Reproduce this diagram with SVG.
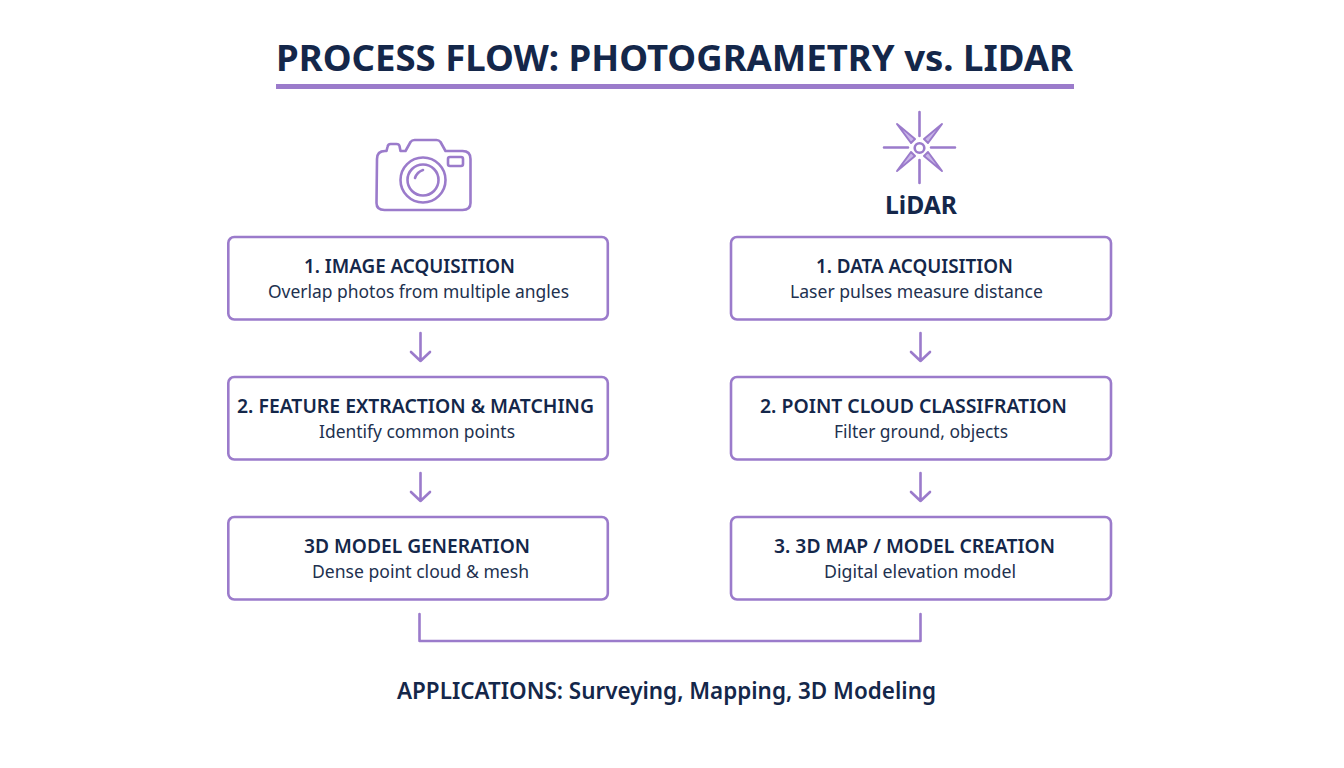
<svg xmlns="http://www.w3.org/2000/svg" width="1344" height="768" viewBox="0 0 1344 768">
<style>
text{font-family:"Noto Sans","Open Sans","Liberation Sans",sans-serif;fill:#14274a;text-anchor:middle}
.t{font-size:19.500px;font-weight:600}
.s{font-size:17.500px;font-weight:400;fill:#22314f}
.b{fill:#fff;stroke:#9b7bcb;stroke-width:2.600}
.l{fill:none;stroke:#9b7bcb;stroke-width:2.600;stroke-linecap:round;stroke-linejoin:round}
.i{fill:none;stroke:#9b7bcb;stroke-width:2.600;stroke-linejoin:round;stroke-linecap:round}
</style>
<rect width="1344" height="768" fill="#fff"/>
<g id="title">
<text x="674.500" y="71" style="font-size:36.500px;font-weight:700" textLength="797" lengthAdjust="spacingAndGlyphs">PROCESS FLOW: PHOTOGRAMETRY vs. LIDAR</text>
<rect x="276" y="84" width="798" height="5" fill="#9b7bcb"/>
</g>
<g id="camera-icon">
<path class="i" d="M377 159q0-8 8-8h1.500l1-4q.5-3 3-3h6q2.500 0 3 2l1 5h5l5-9q1.500-2 4-2h22q2.500 0 4 2l5 9h17q8 0 8 8v44q0 7-8 7h-78q-8 0-8-7z"/>
<rect class="i" x="448" y="157" width="15" height="9" rx="2"/>
<circle class="i" cx="423" cy="180" r="22.500"/>
<circle class="i" cx="423" cy="180" r="15.500"/>
<path class="i" d="M415 178q2-6 8-8"/>
</g>
<g id="lidar-icon">
<circle class="i" cx="919.500" cy="148" r="4.800"/>
<path class="i" d="M919.500 112V136M919.500 160V183M884 147.500H908M931 147.500H955"/>
<path d="M897 124L915 139L911 143ZM942 124L924 139L928 143ZM897 171L915 156L911 152ZM942 171L924 156L928 152Z" fill="#c9b6e8" stroke="#9b7bcb" stroke-width="2" stroke-linejoin="round"/>
<text x="921" y="214" style="font-size:24.500px;font-weight:700" textLength="72" lengthAdjust="spacingAndGlyphs">LiDAR</text>
</g>
<g id="connectors">
<path class="l" d="M420.500 333V361M411 352L420.500 361L430 352"/>
<path class="l" d="M420.500 473V501M411 492L420.500 501L430 492"/>
<path class="l" d="M920.500 333V361M911 352L920.500 361L930 352"/>
<path class="l" d="M920.500 473V501M911 492L920.500 501L930 492"/>
<path class="l" d="M419.500 614V641H920.500V614" stroke-linecap="butt"/>
</g>
<g id="node-l1"><rect class="b" x="228.300" y="237" width="379.500" height="82.500" rx="6"/>
<text class="t" x="409.500" y="273" textLength="211" lengthAdjust="spacingAndGlyphs">1. IMAGE ACQUISITION</text>
<text class="s" x="418.500" y="298" textLength="301" lengthAdjust="spacingAndGlyphs">Overlap photos from multiple angles</text></g>
<g id="node-l2"><rect class="b" x="228.300" y="377" width="379.500" height="82.500" rx="6"/>
<text class="t" x="415.500" y="413" textLength="357" lengthAdjust="spacingAndGlyphs">2. FEATURE EXTRACTION &amp; MATCHING</text>
<text class="s" x="417" y="438" textLength="196" lengthAdjust="spacingAndGlyphs">Identify common points</text></g>
<g id="node-l3"><rect class="b" x="228.300" y="517" width="379.500" height="82.500" rx="6"/>
<text class="t" x="417" y="553" textLength="226" lengthAdjust="spacingAndGlyphs">3D MODEL GENERATION</text>
<text class="s" x="420.500" y="578" textLength="217" lengthAdjust="spacingAndGlyphs">Dense point cloud &amp; mesh</text></g>
<g id="node-r1"><rect class="b" x="731" y="237" width="380" height="82.500" rx="6"/>
<text class="t" x="914.500" y="273" textLength="197" lengthAdjust="spacingAndGlyphs">1. DATA ACQUISITION</text>
<text class="s" x="916.500" y="298" textLength="253" lengthAdjust="spacingAndGlyphs">Laser pulses measure distance</text></g>
<g id="node-r2"><rect class="b" x="731" y="377" width="380" height="82.500" rx="6"/>
<text class="t" x="913.500" y="413" textLength="307" lengthAdjust="spacingAndGlyphs">2. POINT CLOUD CLASSIFRATION</text>
<text class="s" x="921" y="438" textLength="174" lengthAdjust="spacingAndGlyphs">Filter ground, objects</text></g>
<g id="node-r3"><rect class="b" x="731" y="517" width="380" height="82.500" rx="6"/>
<text class="t" x="914.500" y="553" textLength="281" lengthAdjust="spacingAndGlyphs">3. 3D MAP / MODEL CREATION</text>
<text class="s" x="920" y="578" textLength="192" lengthAdjust="spacingAndGlyphs">Digital elevation model</text></g>
<g id="applications">
<text x="666.500" y="699" style="font-size:22.500px;font-weight:600" textLength="539" lengthAdjust="spacingAndGlyphs">APPLICATIONS: Surveying, Mapping, 3D Modeling</text>
</g>
</svg>
